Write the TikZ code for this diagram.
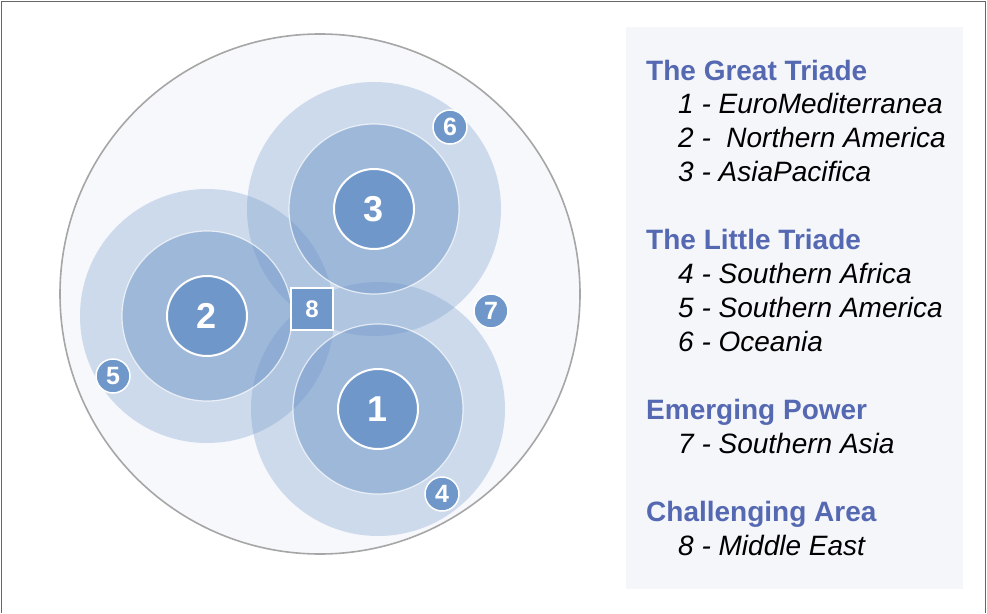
\documentclass[tikz,border=0pt]{standalone}
\usepackage{fontspec}
\setmainfont{Liberation Sans}
\definecolor{ringblue}{RGB}{111,151,201}
\definecolor{coreblue}{RGB}{111,151,201}
\definecolor{headblue}{RGB}{85,104,178}
\definecolor{panelfill}{RGB}{244,246,250}
\definecolor{worldfill}{RGB}{247,248,251}
\tikzset{
  outerdisc/.style={fill=ringblue, fill opacity=0.3},
  middisc/.style={fill=ringblue, fill opacity=0.5, draw=white, draw opacity=0.7, line width=1.2pt},
  corenode/.style={circle, fill=coreblue, draw=white, line width=2pt, minimum size=80pt, inner sep=0pt,
    text=white, font=\bfseries\fontsize{36}{36}\selectfont},
  satnode/.style={circle, fill=coreblue, draw=white, line width=1.5pt, minimum size=34pt, inner sep=0pt,
    text=white, font=\bfseries\fontsize{25}{25}\selectfont},
  boxnode/.style={rectangle, fill=coreblue, draw=white, line width=2pt, minimum size=42pt, inner sep=0pt,
    text=white, font=\bfseries\fontsize{24}{24}\selectfont},
  heading/.style={anchor=base west, inner sep=0pt, text=headblue, font=\bfseries\fontsize{28}{28}\selectfont},
  entry/.style={anchor=base west, inner sep=0pt, font=\itshape\fontsize{28}{28}\selectfont},
}
\begin{document}
\begin{tikzpicture}[x=1pt,y=-1pt]
    \useasboundingbox (0,0) rectangle (987,613);
    \draw[gray!80!black, line width=0.8pt] (1.5,613) -- (1.5,1.5) -- (985.5,1.5) -- (985.5,613);
    % world
    \draw[fill=worldfill, draw=black!35, line width=1.6pt] (320,294) circle (260);
    % cores
    \coordinate (c1) at (378,409);
    \coordinate (c2) at (207,316);
    \coordinate (c3) at (374,209);
    \fill[outerdisc] (c1) circle (127);
    \fill[outerdisc] (c2) circle (127);
    \fill[outerdisc] (c3) circle (127);
    \draw[middisc] (c1) circle (85);
    \draw[middisc] (c2) circle (85);
    \draw[middisc] (c3) circle (85);
    \node[corenode] (euromed) at (c1) {1};
    \node[corenode] (namerica) at (c2) {2};
    \node[corenode] (asiapac) at (c3) {3};
    % satellites
    \node[satnode] (safrica) at (442,494) {4};
    \node[satnode] (samerica) at (113,376) {5};
    \node[satnode] (oceania) at (450,127) {6};
    \node[satnode] (sasia) at (491,311) {7};
    \node[boxnode] (mideast) at (312,309) {8};
    % legend
    \fill[panelfill] (626,27) rectangle (963,589);
    \node[heading] (hgreat) at (646,80) {The Great Triade};
    \node[entry] (l1) at (678,113) {1 - EuroMediterranea};
    \node[entry] (l2) at (678,147) {2 -\ \ Northern America};
    \node[entry] (l3) at (678,181) {3 - AsiaPacifica};
    \node[heading] (hlittle) at (646,249) {The Little Triade};
    \node[entry] (l4) at (678,283) {4 - Southern Africa};
    \node[entry] (l5) at (678,317) {5 - Southern America};
    \node[entry] (l6) at (678,351) {6 - Oceania};
    \node[heading] (hemerg) at (646,419) {Emerging Power};
    \node[entry] (l7) at (678,453) {7 - Southern Asia};
    \node[heading] (hchall) at (646,521) {Challenging Area};
    \node[entry] (l8) at (678,555) {8 - Middle East};
\end{tikzpicture}
\end{document}
